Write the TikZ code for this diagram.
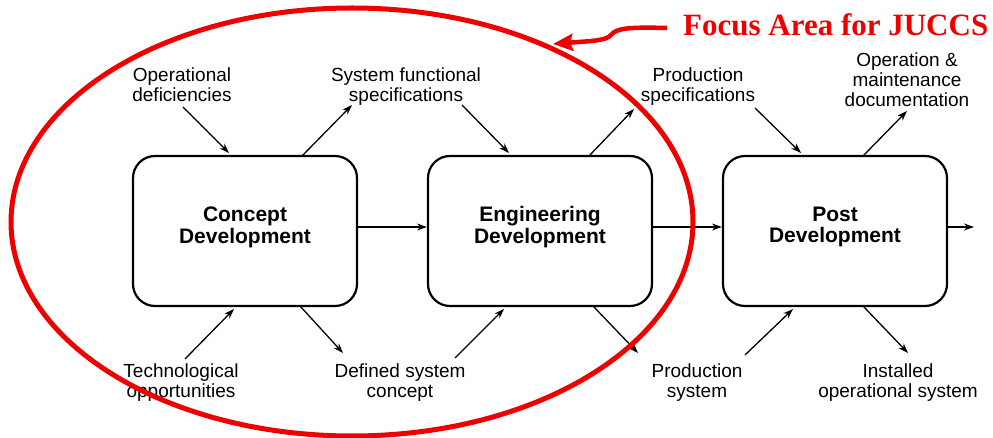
\documentclass[tikz,border=0pt]{standalone}
\usepackage{fontspec}
\setmainfont{Liberation Sans}
\newfontfamily\titlefont{Liberation Serif}
\usetikzlibrary{arrows.meta,calc}
\definecolor{focusred}{RGB}{238,0,0}
\begin{document}
\begin{tikzpicture}[x=1pt,y=-1pt,
  stagebox/.style={draw, line width=2.2pt, rounded corners=22pt, minimum width=224pt,
    minimum height=150pt, font=\fontsize{21}{21.5}\selectfont\bfseries, align=center,
    text depth=12pt, inner sep=0pt},
  lab/.style={font=\fontsize{19}{20}\selectfont, align=center, anchor=base, inner sep=0pt},
  arr/.style={line width=1.3pt, -{Stealth[length=10pt,width=7pt]}},
]
\useasboundingbox (0,0) rectangle (993,438);

% stages
\node[stagebox] (cd) at (245,231) {Concept\\Development};
\node[stagebox] (ed) at (540,231) {Engineering\\Development};
\node[stagebox] (pd) at (835,231) {Post\\Development};

% labels
\node[lab] (od)   at (182,102) {Operational\\deficiencies};
\node[lab] (sfs)  at (406,102) {System functional\\specifications};
\node[lab] (ps)   at (698,102) {Production\\specifications};
\node[lab] (omd)  at (907,107) {Operation \&\\maintenance\\documentation};
\node[lab] (to)   at (181,397) {Technological\\opportunities};
\node[lab] (dsc)  at (400,397) {Defined system\\concept};
\node[lab] (psys) at (697,397) {Production\\system};
\node[lab] (ios)  at (898,397) {Installed\\operational system};

% connector end points
\coordinate (od-s) at (183,107);  \coordinate (cd-in1) at (229,153);
\coordinate (cd-o1) at (302,156); \coordinate (sfs-e) at (352,105);
\coordinate (to-s) at (185,359);  \coordinate (cd-in2) at (234,309);
\coordinate (cd-o2) at (300,306); \coordinate (dsc-e) at (343,353);
\coordinate (sfs-s) at (462,105); \coordinate (ed-in1) at (509,153);
\coordinate (ed-o1) at (589,156); \coordinate (ps-e) at (634,109);
\coordinate (dsc-s) at (455,358); \coordinate (ed-in2) at (504,309);
\coordinate (ed-o2) at (593,306); \coordinate (psys-e) at (638,353);
\coordinate (ps-s) at (755,108);  \coordinate (pd-in1) at (801,153);
\coordinate (pd-o1) at (863,156); \coordinate (omd-e) at (907,111);
\coordinate (psys-s) at (745,355);\coordinate (pd-in2) at (793,309);
\coordinate (pd-o2) at (863,306); \coordinate (ios-e) at (908,353);
\coordinate (out) at (974,227);

\draw[arr] (od-s) -- (cd-in1);
\draw[arr] (cd-o1) -- (sfs-e);
\draw[arr] (to-s) -- (cd-in2);
\draw[arr] (cd-o2) -- (dsc-e);
\draw[arr] (sfs-s) -- (ed-in1);
\draw[arr] (ed-o1) -- (ps-e);
\draw[arr] (dsc-s) -- (ed-in2);
\draw[arr] (ed-o2) -- (psys-e);
\draw[arr] (ps-s) -- (pd-in1);
\draw[arr] (pd-o1) -- (omd-e);
\draw[arr] (psys-s) -- (pd-in2);
\draw[arr] (pd-o2) -- (ios-e);

\draw[arr] ($(cd.east)+(0,-4)$) -- ($(ed.west)+(0,-4)$);
\draw[arr] ($(ed.east)+(0,-4)$) -- ($(pd.west)+(0,-4)$);
\draw[arr] ($(pd.east)+(0,-4)$) -- (out);

% focus area
\node[anchor=base west, inner sep=0pt, text=focusred,
  font=\titlefont\fontsize{31}{31}\selectfont\bfseries] (title) at (683,36) {Focus Area for JUCCS};
\coordinate (fa-s) at (667,28);
\coordinate (fa-e) at (553,44);
\draw[focusred, line width=4.5pt, -{Stealth[length=20pt,width=17pt,inset=3pt]}]
  (fa-s) .. controls (630,27) and (616,28) .. (611,35)
  .. controls (606,41) and (590,41) .. (fa-e);
\draw[focusred, line width=5pt] (352,222) ellipse [x radius=341pt, y radius=214pt];
\end{tikzpicture}
\end{document}
